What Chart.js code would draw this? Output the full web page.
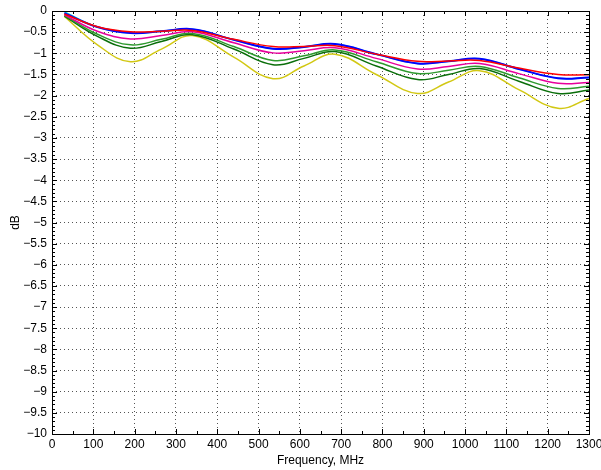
<!DOCTYPE html>
<html>
<head>
<meta charset="utf-8">
<script src="https://cdn.jsdelivr.net/npm/chart.js@4"></script>
<style>
html, body { margin: 0; padding: 0; background: #fff; }
</style>
</head>
<body>
<canvas id="myChart" width="601" height="470"></canvas>
<script>
// frequency points (MHz) and insertion loss (dB) of each trace
const freq = [30, 110, 190, 265, 340, 440, 535, 610, 685, 785, 885, 960, 1035, 1130, 1225, 1300];

const lossRed     = [-0.07, -0.37, -0.49, -0.48, -0.46, -0.67, -0.84, -0.84, -0.82, -1.02, -1.19, -1.18, -1.17, -1.35, -1.50, -1.51];
const lossBlue    = [-0.05, -0.38, -0.52, -0.48, -0.43, -0.68, -0.89, -0.85, -0.78, -1.02, -1.24, -1.19, -1.13, -1.37, -1.59, -1.57];
const lossMagenta = [-0.09, -0.48, -0.66, -0.58, -0.49, -0.75, -0.99, -0.94, -0.87, -1.12, -1.37, -1.31, -1.24, -1.48, -1.71, -1.69];
const lossGreen   = [-0.10, -0.55, -0.80, -0.67, -0.53, -0.84, -1.17, -1.06, -0.92, -1.20, -1.48, -1.40, -1.31, -1.58, -1.83, -1.78];
const lossDkGreen = [-0.12, -0.60, -0.88, -0.72, -0.56, -0.90, -1.27, -1.12, -0.96, -1.30, -1.62, -1.50, -1.36, -1.66, -1.95, -1.87];
const lossYellow  = [-0.13, -0.80, -1.20, -0.90, -0.58, -1.09, -1.60, -1.30, -1.02, -1.50, -1.95, -1.68, -1.41, -1.86, -2.30, -2.07];
const lossCyan    = [-0.02, -0.38, -0.52, -0.48, -0.43, -0.68, -0.89, -0.85, -0.78, -1.02, -1.24, -1.19, -1.13, -1.37, -1.59, -1.57];

const xTicks = { min: 0, max: 1300, step: 100, minor: 50 };
const yTicks = { min: -10, max: 0, step: 0.5, minor: 0.1 };

function series(vals, color, width) {
  return {
    data: freq.map((f, i) => ({ x: f, y: vals[i] })),
    borderColor: color,
    borderWidth: width || 1.5,
    pointRadius: 0,
    fill: false,
    tension: 0.4
  };
}

// box around the plot with inward major/minor ticks on all four sides
const frameTicks = {
  id: 'frameTicks',
  afterDraw(chart) {
    const ctx = chart.ctx;
    const a = chart.chartArea;
    const x = chart.scales.x, y = chart.scales.y;
    ctx.save();
    ctx.strokeStyle = '#000';
    ctx.lineWidth = 1;
    ctx.beginPath();
    for (let f = xTicks.min; f <= xTicks.max; f += xTicks.minor) {
      const px = Math.round(x.getPixelForValue(f)) + 0.5;
      const len = f % xTicks.step === 0 ? 5 : 3;
      ctx.moveTo(px, a.bottom); ctx.lineTo(px, a.bottom - len);
      ctx.moveTo(px, a.top); ctx.lineTo(px, a.top + len);
    }
    const n = Math.round((yTicks.max - yTicks.min) / yTicks.minor);
    for (let i = 0; i <= n; i++) {
      const v = yTicks.max - i * yTicks.minor;
      const py = Math.round(y.getPixelForValue(v)) + 0.5;
      const len = i % 5 === 0 ? 5 : 3;
      ctx.moveTo(a.left, py); ctx.lineTo(a.left + len, py);
      ctx.moveTo(a.right, py); ctx.lineTo(a.right - len, py);
    }
    ctx.stroke();
    ctx.strokeRect(Math.round(a.left) + 0.5, Math.round(a.top) + 0.5,
      Math.round(a.right - a.left), Math.round(a.bottom - a.top));
    ctx.restore();
  }
};

const fontSpec = { family: '"Liberation Sans", Arial, sans-serif', size: 12 };

const ctx = document.getElementById('myChart').getContext('2d');
const myChart = new Chart(ctx, {
  type: 'line',
  data: {
    datasets: [
      series(lossRed, '#ff0000'),
      series(lossBlue, '#0000ff', 2),
      series(lossMagenta, '#e8009c'),
      series(lossGreen, '#2e9a2e'),
      series(lossDkGreen, '#0a6e0a'),
      series(lossYellow, '#d2c814'),
      series(lossCyan, '#00dddd')
    ]
  },
  options: {
    responsive: false,
    animation: false,
    layout: { padding: { top: 11, right: 12, left: 0, bottom: 0 } },
    plugins: { legend: { display: false }, tooltip: { enabled: false } },
    scales: {
      x: {
        type: 'linear',
        min: xTicks.min,
        max: xTicks.max,
        afterFit(scale) {
          scale.height = 36;
          scale.paddingLeft = 0;
          scale.paddingRight = 0;
        },
        ticks: {
          stepSize: xTicks.step,
          color: '#000',
          font: fontSpec,
          padding: 3,
          maxRotation: 0,
          callback: v => String(v)
        },
        grid: { color: '#555', lineWidth: 1, drawTicks: false },
        border: { display: false, dash: [1, 3] },
        title: { display: true, text: 'Frequency, MHz', color: '#000', font: fontSpec, padding: { top: 0, bottom: 2 } }
      },
      y: {
        type: 'linear',
        min: yTicks.min,
        max: yTicks.max,
        afterFit(scale) {
          scale.width = 52;
          scale.paddingTop = 0;
          scale.paddingBottom = 0;
        },
        ticks: {
          stepSize: yTicks.step,
          color: '#000',
          font: fontSpec,
          padding: 5,
          callback: v => v < 0 ? '\u2212' + String(Math.abs(v)) : String(v)
        },
        grid: { color: '#555', lineWidth: 1, drawTicks: false },
        border: { display: false, dash: [1, 3] },
        title: { display: true, text: 'dB', color: '#000', font: fontSpec, padding: { top: 8, bottom: 0 } }
      }
    }
  },
  plugins: [frameTicks]
});
</script>
</body>
</html>
